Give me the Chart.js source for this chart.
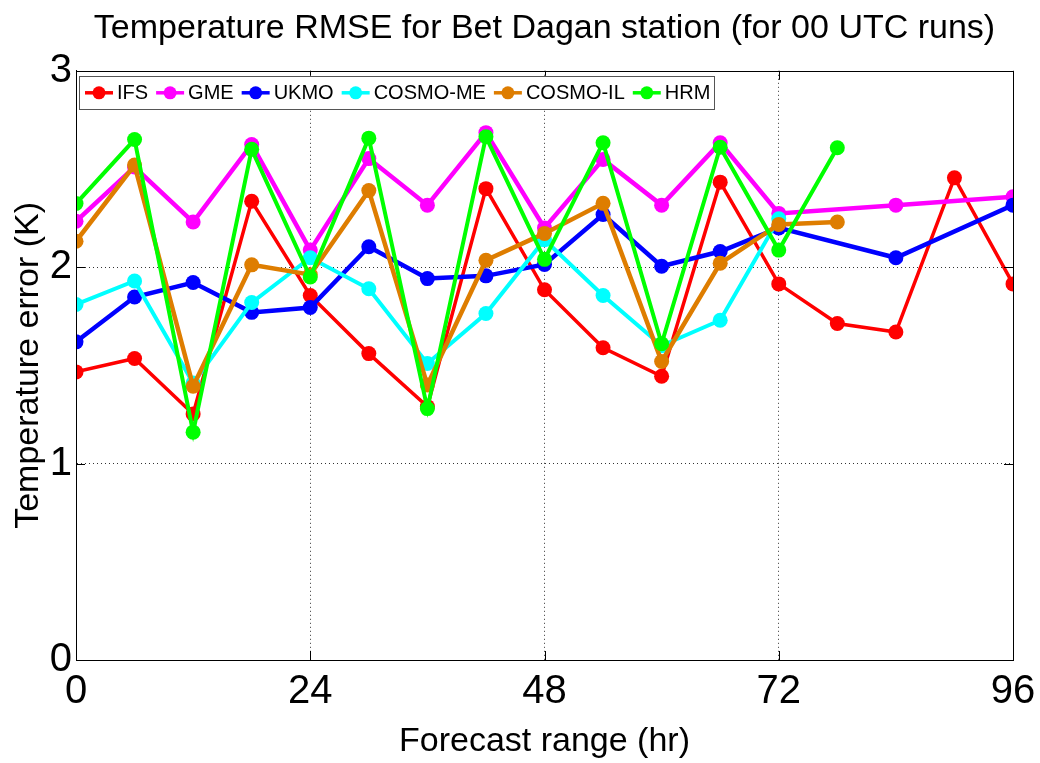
<!DOCTYPE html>
<html>
<head>
<meta charset="utf-8">
<script src="https://cdn.jsdelivr.net/npm/chart.js@4/dist/chart.umd.min.js"></script>
<style>
  html, body { margin: 0; padding: 0; background: #fff; }
  #wrap { width: 1040px; height: 763px; position: relative; }
</style>
</head>
<body>
<div id="wrap"><canvas id="c" width="1040" height="763"></canvas></div>
<script>
// Forecast hours (x categories)
const hours = [0, 6, 12, 18, 24, 30, 36, 42, 48, 54, 60, 66, 72, 78, 84, 90, 96];
const xTicks = [0, 24, 48, 72, 96];
const yTicks = [0, 1, 2, 3];

// Series values (K); null = no point at that hour
const ifs      = [1.467, 1.535, 1.253, 2.336, 1.856, 1.56, 1.29, 2.40, 1.885, 1.59, 1.445, 2.433, 1.915, 1.713, 1.67, 2.455, 1.915];
const gme      = [2.234, 2.51, 2.23, 2.625, 2.087, 2.553, 2.316, 2.685, 2.20, 2.549, 2.316, 2.634, 2.274, null, 2.316, null, 2.359];
const ukmo     = [1.62, 1.848, 1.922, 1.77, 1.795, 2.104, 1.942, 1.956, 2.014, 2.268, 2.005, 2.08, 2.20, null, 2.048, null, 2.316];
const cosmoMe  = [1.81, 1.93, 1.41, 1.82, 2.048, 1.89, 1.51, 1.764, 2.14, 1.856, 1.60, 1.73, 2.247, null, null, null, null];
const cosmoIl  = [2.132, 2.52, 1.394, 2.012, 1.962, 2.39, 1.40, 2.035, 2.172, 2.325, 1.52, 2.02, 2.218, 2.23, null, null, null];
const hrm      = [2.324, 2.65, 1.16, 2.60, 1.95, 2.657, 1.28, 2.664, 2.04, 2.634, 1.61, 2.611, 2.087, 2.608, null, null, null];

const seriesNames  = ['IFS', 'GME', 'UKMO', 'COSMO-ME', 'COSMO-IL', 'HRM'];
const seriesValues = [ifs, gme, ukmo, cosmoMe, cosmoIl, hrm];
const seriesColors = ['#ff0000', '#ff00ff', '#0000ff', '#00ffff', '#de7d00', '#00ff00'];
const seriesWidths = [3.5, 4.5, 4.5, 4, 4.5, 4];

const FONT = '"Liberation Sans", Arial, Helvetica, sans-serif';

const datasets = seriesNames.map((name, i) => ({
  label: name,
  data: hours.map((h, j) => ({ x: h, y: seriesValues[i][j] })),
  borderColor: seriesColors[i],
  backgroundColor: seriesColors[i],
  pointBackgroundColor: seriesColors[i],
  pointBorderColor: seriesColors[i],
  borderWidth: seriesWidths[i],
  pointRadius: 7.5,
  pointHoverRadius: 7.5,
  pointBorderWidth: 0,
  tension: 0,
  spanGaps: true,
  order: seriesNames.length - i
}));

const bgPlugin = {
  id: 'bg',
  beforeDraw(chart) {
    const ctx = chart.ctx;
    ctx.save();
    ctx.fillStyle = '#fff';
    ctx.fillRect(0, 0, chart.width, chart.height);
    ctx.restore();
  }
};

const framePlugin = {
  id: 'frame',
  afterDraw(chart) {
    const ctx = chart.ctx;
    const a = chart.chartArea;
    const xs = chart.scales.x, ys = chart.scales.y;
    ctx.save();
    ctx.strokeStyle = '#000';
    ctx.lineWidth = 1;
    ctx.strokeRect(Math.round(a.left) + 0.5, Math.round(a.top) + 0.5,
                   Math.round(a.right - a.left), Math.round(a.bottom - a.top));
    // inward tick marks
    const tl = 9;
    ctx.beginPath();
    xTicks.forEach(v => {
      const px = Math.round(xs.getPixelForValue(v)) + 0.5;
      ctx.moveTo(px, a.bottom); ctx.lineTo(px, a.bottom - tl);
      ctx.moveTo(px, a.top); ctx.lineTo(px, a.top + tl);
    });
    yTicks.forEach(v => {
      const py = Math.round(ys.getPixelForValue(v)) + 0.5;
      ctx.moveTo(a.left, py); ctx.lineTo(a.left + tl, py);
      ctx.moveTo(a.right, py); ctx.lineTo(a.right - tl, py);
    });
    ctx.stroke();

    // legend (MATLAB style: line + marker + label, boxed)
    ctx.font = '20px ' + FONT;
    ctx.textBaseline = 'middle';
    const boxL = a.left + 3, boxT = a.top + 5, boxH = 33;
    let x = boxL + 6;
    const cy = boxT + boxH / 2 + 0.5;
    const items = [];
    chart.data.datasets.forEach(ds => {
      const w = ctx.measureText(ds.label).width;
      items.push({ x, ds, w });
      x += 32 + w + 8;
    });
    const boxW = x - 8 + 4 - boxL;
    ctx.fillStyle = '#fff';
    ctx.fillRect(boxL, boxT, boxW, boxH);
    ctx.strokeStyle = '#555';
    ctx.lineWidth = 1;
    ctx.strokeRect(Math.round(boxL) + 0.5, Math.round(boxT) + 0.5, Math.round(boxW), boxH);
    items.forEach(it => {
      ctx.strokeStyle = it.ds.borderColor;
      ctx.lineWidth = 3.5;
      ctx.beginPath();
      ctx.moveTo(it.x, cy); ctx.lineTo(it.x + 28, cy);
      ctx.stroke();
      ctx.fillStyle = it.ds.borderColor;
      ctx.beginPath();
      ctx.arc(it.x + 14, cy, 6.5, 0, Math.PI * 2);
      ctx.fill();
      ctx.fillStyle = '#000';
      ctx.fillText(it.ds.label, it.x + 32, cy + 1);
    });
    ctx.restore();
  }
};

const edgeHide = (min, max) => (ctx) => {
  const v = ctx.tick && ctx.tick.value;
  return (v === min || v === max) ? 'rgba(0,0,0,0)' : '#333';
};

new Chart(document.getElementById('c'), {
  type: 'line',
  data: { datasets },
  plugins: [bgPlugin, framePlugin],
  options: {
    responsive: false,
    animation: false,
    events: [],
    layout: { padding: { top: 0, right: 27, bottom: 0, left: 0 } },
    plugins: {
      legend: { display: false },
      tooltip: { enabled: false },
      title: {
        display: true,
        fullSize: false,
        text: 'Temperature RMSE for Bet Dagan station (for 00 UTC runs)',
        color: '#000',
        font: { family: FONT, size: 34, weight: 'normal' },
        padding: { top: 8, bottom: 22 }
      }
    },
    scales: {
      x: {
        type: 'linear',
        min: 0, max: 96,
        afterBuildTicks(scale) { scale.ticks = xTicks.map(v => ({ value: v })); },
        afterFit(scale) {
          scale.height = 103;
          scale.paddingRight = Math.min(scale.paddingRight, 10);
          scale.paddingLeft = Math.min(scale.paddingLeft, 10);
        },
        ticks: {
          color: '#000',
          font: { family: FONT, size: 40 },
          padding: 8,
          maxRotation: 0,
          autoSkip: false
        },
        grid: { drawTicks: false, color: edgeHide(0, 96), lineWidth: 1 },
        border: { color: '#000', width: 1, dash: [1, 3] },
        title: {
          display: true,
          text: 'Forecast range (hr)',
          color: '#000',
          font: { family: FONT, size: 34 },
          padding: { top: 0, bottom: 1 }
        }
      },
      y: {
        type: 'linear',
        min: 0, max: 3,
        afterBuildTicks(scale) { scale.ticks = yTicks.map(v => ({ value: v })); },
        afterFit(scale) { scale.width = 76; },
        ticks: {
          color: '#000',
          font: { family: FONT, size: 40 },
          padding: 4
        },
        grid: { drawTicks: false, color: edgeHide(0, 3), lineWidth: 1 },
        border: { color: '#000', width: 1, dash: [1, 3] },
        title: {
          display: true,
          text: 'Temperature error (K)',
          color: '#000',
          font: { family: FONT, size: 34 },
          padding: { top: 8, bottom: 0 }
        }
      }
    }
  }
});
</script>
</body>
</html>
